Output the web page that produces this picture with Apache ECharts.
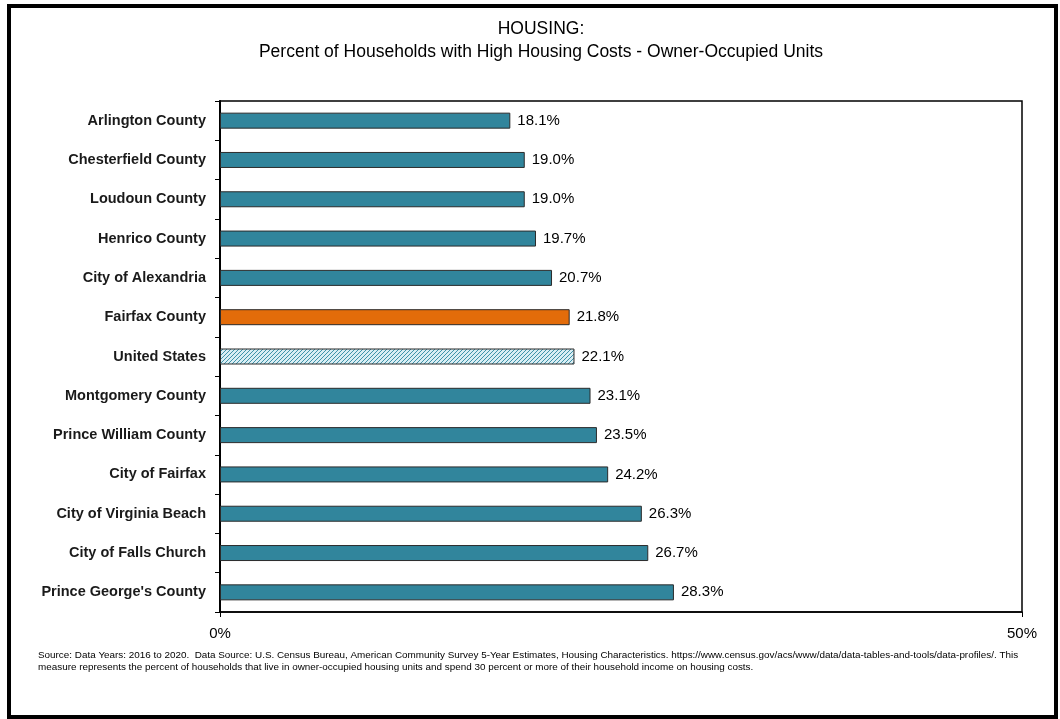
<!DOCTYPE html>
<html>
<head>
<meta charset="utf-8">
<script src="https://cdn.jsdelivr.net/npm/echarts@6/dist/echarts.min.js"></script>
<style>
  html, body { margin: 0; padding: 0; background: #ffffff; }
  #chart { width: 1060px; height: 719px; }
</style>
</head>
<body>
<div id="chart"></div>
<script>
// Jurisdictions, top to bottom
const categories = [
  "Arlington County",
  "Chesterfield County",
  "Loudoun County",
  "Henrico County",
  "City of Alexandria",
  "Fairfax County",
  "United States",
  "Montgomery County",
  "Prince William County",
  "City of Fairfax",
  "City of Virginia Beach",
  "City of Falls Church",
  "Prince George's County"
];
// Percent of owner-occupied households with high housing costs
const values = [18.1, 19.0, 19.0, 19.7, 20.7, 21.8, 22.1, 23.1, 23.5, 24.2, 26.3, 26.7, 28.3];
const axisTicks = [0, 50];

const titleLines = ["HOUSING:", "Percent of Households with High Housing Costs - Owner-Occupied Units"];
const sourceNote = "Source: Data Years: 2016 to 2020.  Data Source: U.S. Census Bureau, American Community Survey 5-Year Estimates, Housing Characteristics. https://www.census.gov/acs/www/data/data-tables-and-tools/data-profiles/. This\nmeasure represents the percent of households that live in owner-occupied housing units and spend 30 percent or more of their household income on housing costs.";

const TEAL = "#31859c";
const ORANGE = "#e36c0a";

// Diagonal hatch used for the national benchmark bar
function hatchPattern() {
  const c = document.createElement("canvas");
  c.width = 4; c.height = 4;
  const g = c.getContext("2d");
  g.fillStyle = "#d9eef4";
  g.fillRect(0, 0, 4, 4);
  g.strokeStyle = "#3f93aa";
  g.lineWidth = 1;
  g.beginPath();
  g.moveTo(0, 4); g.lineTo(4, 0);
  g.moveTo(-1, 1); g.lineTo(1, -1);
  g.moveTo(3, 5); g.lineTo(5, 3);
  g.stroke();
  return c;
}
const hatch = { image: hatchPattern(), repeat: "repeat" };

function barColor(name) {
  if (name === "Fairfax County") return ORANGE;
  if (name === "United States") return hatch;
  return TEAL;
}

const chart = echarts.init(document.getElementById("chart"), null, { renderer: "canvas" });

const option = {
  animation: false,
  backgroundColor: "#ffffff",
  title: {
    text: titleLines.join("\n"),
    left: 536,
    textAlign: "center",
    top: 13,
    textStyle: {
      fontFamily: "'Liberation Sans', sans-serif",
      fontSize: 17.5,
      fontWeight: "normal",
      color: "#000000",
      lineHeight: 23
    }
  },
  grid: { left: 220, right: 38, top: 101, bottom: 107, containLabel: false, show: true, borderColor: "#000000", borderWidth: 1.5 },
  xAxis: {
    type: "value",
    min: 0,
    max: 50,
    interval: 50,
    axisLine: { show: true, lineStyle: { color: "#000000", width: 1.5 } },
    axisTick: { show: true, length: 5, lineStyle: { color: "#000000" } },
    splitLine: { show: false },
    axisLabel: {
      formatter: v => (axisTicks.includes(v) ? v + "%" : ""),
      margin: 14,
      fontFamily: "'Liberation Sans', sans-serif",
      fontSize: 15,
      color: "#000000"
    }
  },
  yAxis: {
    type: "category",
    data: categories,
    inverse: true,
    axisLine: { show: true, lineStyle: { color: "#000000", width: 2 } },
    axisTick: { show: true, length: 5, lineStyle: { color: "#000000" } },
    axisLabel: {
      margin: 14,
      padding: [3, 0, 0, 0],
      fontFamily: "'Liberation Sans', sans-serif",
      fontWeight: "bold",
      fontSize: 14.5,
      color: "#1a1a1a"
    }
  },
  series: [{
    type: "bar",
    barWidth: 16,
    data: values.map((v, i) => ({
      value: v,
      itemStyle: { color: barColor(categories[i]) }
    })),
    itemStyle: { borderColor: "#2b2b2b", borderWidth: 1 },
    label: {
      show: true,
      position: "right",
      distance: 7,
      padding: [3, 0, 0, 0],
      formatter: p => p.value.toFixed(1) + "%",
      fontFamily: "'Liberation Sans', sans-serif",
      fontSize: 15,
      color: "#000000"
    }
  }],
  graphic: [
    {
      type: "rect",
      shape: { x: 9, y: 6, width: 1047, height: 711 },
      style: { fill: "none", stroke: "#000000", lineWidth: 4 },
      silent: true
    },
    {
      type: "text",
      left: 38,
      top: 649,
      style: {
        text: sourceNote,
        font: "9.9px 'Liberation Sans', sans-serif",
        fill: "#000000",
        lineHeight: 12
      }
    }
  ]
};

chart.setOption(option);
</script>
</body>
</html>
